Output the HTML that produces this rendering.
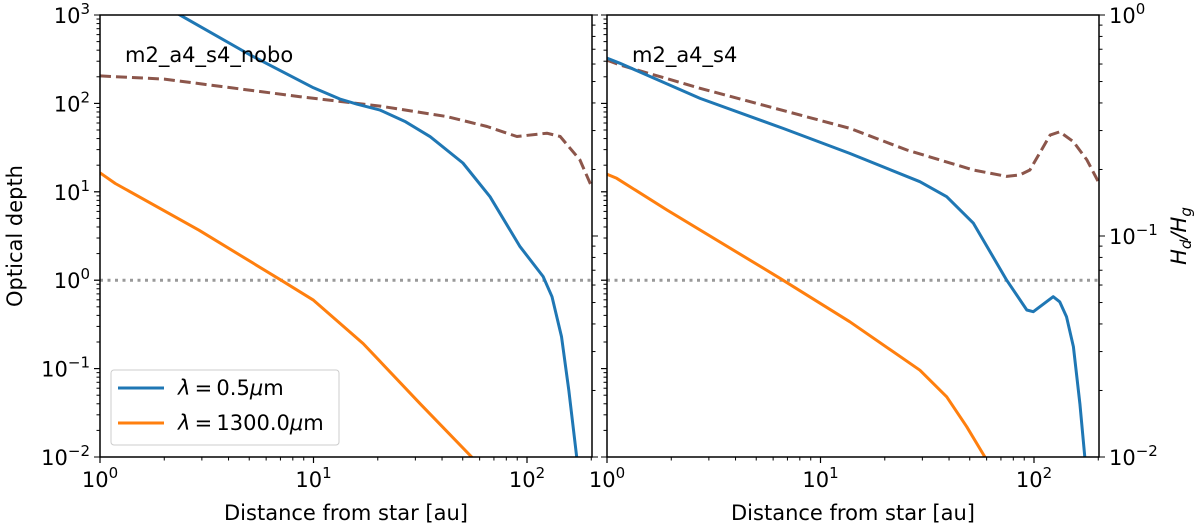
<!DOCTYPE html>
<html><head><meta charset="utf-8"><style>
body{margin:0;background:#fff}
svg text{font-family:"DejaVu Sans","Liberation Sans",sans-serif;fill:#000}
</style></head><body>
<svg id="chart" width="1200" height="527" viewBox="0 0 1200 527" xmlns="http://www.w3.org/2000/svg"></svg>
<script>
// ---- data ----
const leftBlueX=[1,2.37,5.05,10,13.3,16,20.5,27,35.2,50.1,67.1,92.7,119,131,145,157,171];
const leftBlueTau=[3162,1000,353,150,112,98,84,62,42,21.2,8.8,2.4,1.1,0.65,0.23,0.057,0.01];
const leftOrangeX=[1,1.18,2.91,7.05,10,17.1,31.6,55.1,65];
const leftOrangeTau=[16.4,12.4,3.68,1.0,0.594,0.192,0.040,0.010,0.004];
const leftHX=[1,2,8.65,20.5,42.2,65,89.7,124,143,177,197,200];
const leftH=[0.53,0.513,0.427,0.387,0.347,0.313,0.282,0.292,0.282,0.221,0.174,0.17];
const rightBlueX=[1,1.15,2.73,6.68,13.7,29.2,39,52,74.5,92.5,99.3,123,132,142,153,164,173];
const rightBlueTau=[325,284,114,52.2,27.2,13.0,8.81,4.41,1.0,0.46,0.44,0.65,0.57,0.386,0.177,0.040,0.010];
const rightOrangeX=[1,1.11,1.91,6.46,13.7,29.2,39,48.4,58.9];
const rightOrangeTau=[15.8,14.2,6.22,1.05,0.339,0.096,0.048,0.022,0.010];
const rightHX=[1,1.15,2.73,13.7,25.4,52,74.5,85.9,95.7,119,132,153,177,200];
const rightH=[0.625,0.594,0.466,0.307,0.245,0.199,0.186,0.189,0.199,0.286,0.296,0.267,0.221,0.176];
const xTickLabels=["0","1","2"];
const tauTickExp=["3","2","1","0","−1","−2"];
const hTickExp=["0","−1","−2"];

const NS="http://www.w3.org/2000/svg";
const svg=document.getElementById('chart');
const TOP=15,BOT=457,W=492,FS=21;
function mk(tag,attrs,parent){const e=document.createElementNS(NS,tag);for(const k in attrs)e.setAttribute(k,attrs[k]);(parent||svg).appendChild(e);return e;}
const yTau=v=>TOP+(3-Math.log10(v))*(BOT-TOP)/5;
const yH=v=>TOP+(-Math.log10(v))*(BOT-TOP)/2;
function supLabel(x,y,exp,anchor,parent,name){
  const t=mk('text',{x:x,y:y,'font-size':FS,'text-anchor':anchor},parent);
  
  
  t.appendChild(document.createTextNode('10'));
  const s=document.createElementNS(NS,'tspan');s.setAttribute('dy','-9');s.setAttribute('font-size','15');s.textContent=exp;t.appendChild(s);
  return t;
}
function panel(x0,id,blueX,blueT,orX,orT,hX,hV,label,showLeftLabels,showRightLabels){
  const xs=v=>x0+Math.log10(v)*213.5;
  const g=mk('g',{});
  
  
  const cp=mk('clipPath',{id:'c'+id},g);mk('rect',{x:x0,y:TOP,width:W,height:BOT-TOP},cp);
  const pg=mk('g',{'clip-path':'url(#c'+id+')'},g);
  const dl=mk('line',{x1:x0,x2:x0+W,y1:yTau(1),y2:yTau(1),stroke:'#999','stroke-width':3,'stroke-dasharray':'3,4.5'},pg);
  
  
  const path=(X,Y,fy)=>X.map((v,i)=>(i?'L':'M')+xs(v).toFixed(1)+','+fy(Y[i]).toFixed(1)).join('');
  const b=mk('path',{d:path(hX,hV,yH),fill:'none',stroke:'#8c564b','stroke-width':3,'stroke-dasharray':'11,5','stroke-linejoin':'round'},pg);
  
  
  const o=mk('path',{d:path(orX,orT,yTau),fill:'none',stroke:'#ff7f0e','stroke-width':3,'stroke-linejoin':'round'},pg);
  
  
  const bl=mk('path',{d:path(blueX,blueT,yTau),fill:'none',stroke:'#1f77b4','stroke-width':3,'stroke-linejoin':'round'},pg);
  
  
  const fr=mk('rect',{x:x0,y:TOP,width:W,height:BOT-TOP,fill:'none',stroke:'#000','stroke-width':1.5},g);
  
  
  for(let d=0;d<3;d++)for(let m=1;m<10;m++){const v=m*Math.pow(10,d);if(v>200)continue;const x=xs(v);
    mk('line',{x1:x,x2:x,y1:BOT,y2:BOT+(m==1?6:3.5),stroke:'#000','stroke-width':m==1?1.2:1}, g);}
  xTickLabels.forEach((e,i)=>supLabel(xs(Math.pow(10,i)),BOT+30,e,'middle',g,'x-tick-label'));
  const xt=mk('text',{x:x0+W/2,y:520,'font-size':FS,'text-anchor':'middle'},g);xt.textContent='Distance from star [au]';
  
  
  for(let d=-2;d<3;d++)for(let m=1;m<=10;m++){const v=m*Math.pow(10,d);const y=yTau(v);
    mk('line',{x1:x0,x2:x0-(m==1||m==10?6:3.5),y1:y,y2:y,stroke:'#000','stroke-width':1},g);}
  if(showLeftLabels) tauTickExp.forEach((e,i)=>supLabel(x0-10,yTau(Math.pow(10,3-i))+8,e,'end',g,'y-tick-label'));
  for(let d=-2;d<0;d++)for(let m=1;m<=10;m++){const v=m*Math.pow(10,d);const y=yH(v);
    mk('line',{x1:x0+W,x2:x0+W+(m==1||m==10?6:3.5),y1:y,y2:y,stroke:'#000','stroke-width':1},g);}
  if(showRightLabels) hTickExp.forEach((e,i)=>supLabel(x0+W+10,yH(Math.pow(10,-i))+8,e,'start',g,'h-tick-label'));
  const an=mk('text',{x:x0+25,y:62,'font-size':FS},g);an.textContent=label;
  
  
}
panel(100,'left-panel',leftBlueX,leftBlueTau,leftOrangeX,leftOrangeTau,leftHX,leftH,'m2_a4_s4_nobo',true,false);
panel(607,'right-panel',rightBlueX,rightBlueTau,rightOrangeX,rightOrangeTau,rightHX,rightH,'m2_a4_s4',false,true);
const yt=mk('text',{x:0,y:0,'font-size':FS,'text-anchor':'middle',transform:'translate(22,236) rotate(-90)'});yt.textContent='Optical depth';


const yt2=mk('text',{x:0,y:0,'font-size':FS,'text-anchor':'middle','font-style':'italic',transform:'translate(1186,236) rotate(-90)'});


yt2.innerHTML='H<tspan font-size="15" dy="5">d</tspan><tspan dy="-5">/H</tspan><tspan font-size="15" dy="5">g</tspan>';
const lg=mk('g',{});


mk('rect',{x:111,y:370,width:228,height:75,rx:3,fill:'#fff',stroke:'#ccc','stroke-width':1},lg);
[['#1f77b4','0.5',388],['#ff7f0e','1300.0',423]].forEach(([c,t,y])=>{
  const en=mk('g',{},lg);
  
  
  mk('line',{x1:118,x2:164,y1:y,y2:y,stroke:c,'stroke-width':3},en);
  const tx=mk('text',{x:178,y:y+7,'font-size':FS},en);
  tx.innerHTML='<tspan font-style="italic">λ</tspan>\u2009=\u2009'+t+'<tspan font-style="italic">μ</tspan>m';
});
</script>
</body></html>
